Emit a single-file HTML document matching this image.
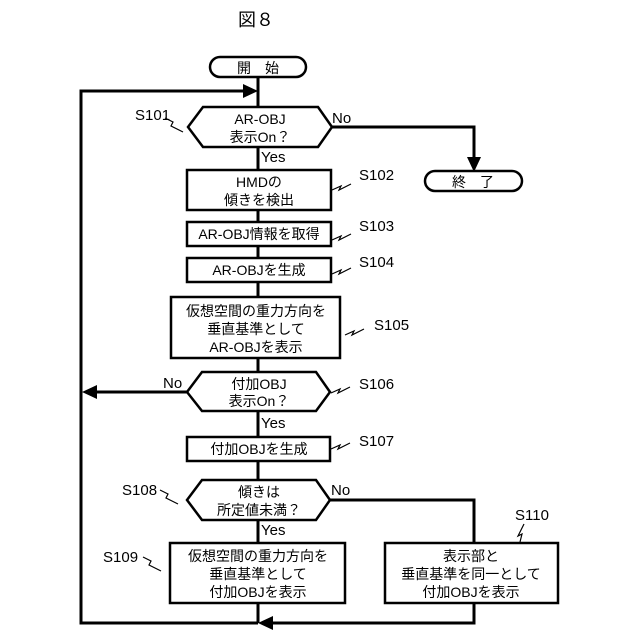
<!DOCTYPE html>
<html><head><meta charset="utf-8"><style>html,body{margin:0;padding:0;background:#fff}svg{display:block}</style></head>
<body>
<svg width="640" height="640" viewBox="0 0 640 640" xmlns="http://www.w3.org/2000/svg" font-family="'Liberation Sans','Noto Sans CJK JP',sans-serif" fill="none" stroke="#000">
<g stroke-width="3">
<!-- main line -->
<line x1="258" y1="77" x2="258" y2="107"/>
<line x1="258" y1="147" x2="258" y2="170"/>
<line x1="258" y1="210" x2="258" y2="222"/>
<line x1="258" y1="246" x2="258" y2="258"/>
<line x1="258" y1="282" x2="258" y2="297"/>
<line x1="258" y1="358" x2="258" y2="372"/>
<line x1="258" y1="411" x2="258" y2="437"/>
<line x1="258" y1="461" x2="258" y2="480"/>
<line x1="258" y1="520" x2="258" y2="543"/>
<line x1="258" y1="603" x2="258" y2="623"/>
<!-- left loop -->
<polyline points="258,623 81,623 81,91 245,91"/>
<line x1="187" y1="392" x2="95" y2="392"/>
<!-- No to end -->
<polyline points="332,127 474,127 474,160"/>
<!-- S108 No -->
<polyline points="330,500 474,500 474,543"/>
<polyline points="474,603 474,623 270,623"/>
</g>
<g fill="#000" stroke="none">
<polygon points="258,91 243,84 243,98"/>
<polygon points="82,392 97,385 97,399"/>
<polygon points="474,172 467,157 481,157"/>
<polygon points="258,623 273,616 273,630"/>
</g>
<g stroke-width="2.5" fill="#fff">
<rect x="210" y="57" width="96" height="20" rx="10"/>
<rect x="425" y="171" width="97" height="20" rx="10"/>
<polygon points="188,127 203,107 318,107 332,127 318,147 203,147"/>
<rect x="187" y="170" width="144" height="40"/>
<rect x="187" y="222" width="144" height="24"/>
<rect x="187" y="258" width="144" height="24"/>
<rect x="171" y="297" width="169" height="61"/>
<polygon points="187,392 202,372 316,372 330,392 316,411 202,411"/>
<rect x="187" y="437" width="143" height="24"/>
<polygon points="187,500 202,480 316,480 330,500 316,520 202,520"/>
<rect x="170" y="543" width="175" height="60"/>
<rect x="385" y="543" width="173" height="60"/>
</g>
<!-- squiggles -->
<g stroke-width="1.2">
<path d="M165,118 l8,4 l-2,4 l12,6"/>
<path d="M332,190 l9,-4 l-2,4 l12,-6"/>
<path d="M332,240 l9,-4 l-2,4 l12,-6"/>
<path d="M332,274 l9,-4 l-2,4 l12,-6"/>
<path d="M345,335 l9,-4 l-2,4 l12,-6"/>
<path d="M331,393 l9,-4 l-2,4 l12,-6"/>
<path d="M331,449 l9,-4 l-2,4 l12,-6"/>
<path d="M160,490 l8,4 l-2,4 l12,6"/>
<path d="M143,557 l8,4 l-2,4 l12,6"/>
<path d="M520,542 l2,-8 l-4,2 l6,-12"/>
</g>
<g fill="#000" stroke="none" font-size="14" text-anchor="middle">
<text x="256" y="26" font-size="18">図８</text>
<text x="258" y="73">開　始</text>
<text x="473" y="187">終　了</text>
<text x="260" y="124">AR-OBJ</text>
<text x="260" y="142">表示On？</text>
<text x="259" y="187">HMDの</text>
<text x="259" y="205">傾きを検出</text>
<text x="259" y="239">AR-OBJ情報を取得</text>
<text x="259" y="275">AR-OBJを生成</text>
<text x="256" y="316">仮想空間の重力方向を</text>
<text x="256" y="334">垂直基準として</text>
<text x="256" y="352">AR-OBJを表示</text>
<text x="259" y="389">付加OBJ</text>
<text x="259" y="406">表示On？</text>
<text x="259" y="454">付加OBJを生成</text>
<text x="259" y="497">傾きは</text>
<text x="259" y="515">所定値未満？</text>
<text x="258" y="561">仮想空間の重力方向を</text>
<text x="258" y="579">垂直基準として</text>
<text x="258" y="597">付加OBJを表示</text>
<text x="471" y="561">表示部と</text>
<text x="471" y="579">垂直基準を同一として</text>
<text x="471" y="597">付加OBJを表示</text>
</g>
<g fill="#000" stroke="none" font-size="15">
<text x="135" y="120">S101</text>
<text x="332" y="123">No</text>
<text x="261" y="162">Yes</text>
<text x="359" y="180">S102</text>
<text x="359" y="231">S103</text>
<text x="359" y="267">S104</text>
<text x="374" y="330">S105</text>
<text x="163" y="388">No</text>
<text x="261" y="428">Yes</text>
<text x="359" y="389">S106</text>
<text x="359" y="446">S107</text>
<text x="122" y="495">S108</text>
<text x="331" y="495">No</text>
<text x="261" y="535">Yes</text>
<text x="103" y="562">S109</text>
<text x="515" y="520">S110</text>
</g>
</svg>
</body></html>
